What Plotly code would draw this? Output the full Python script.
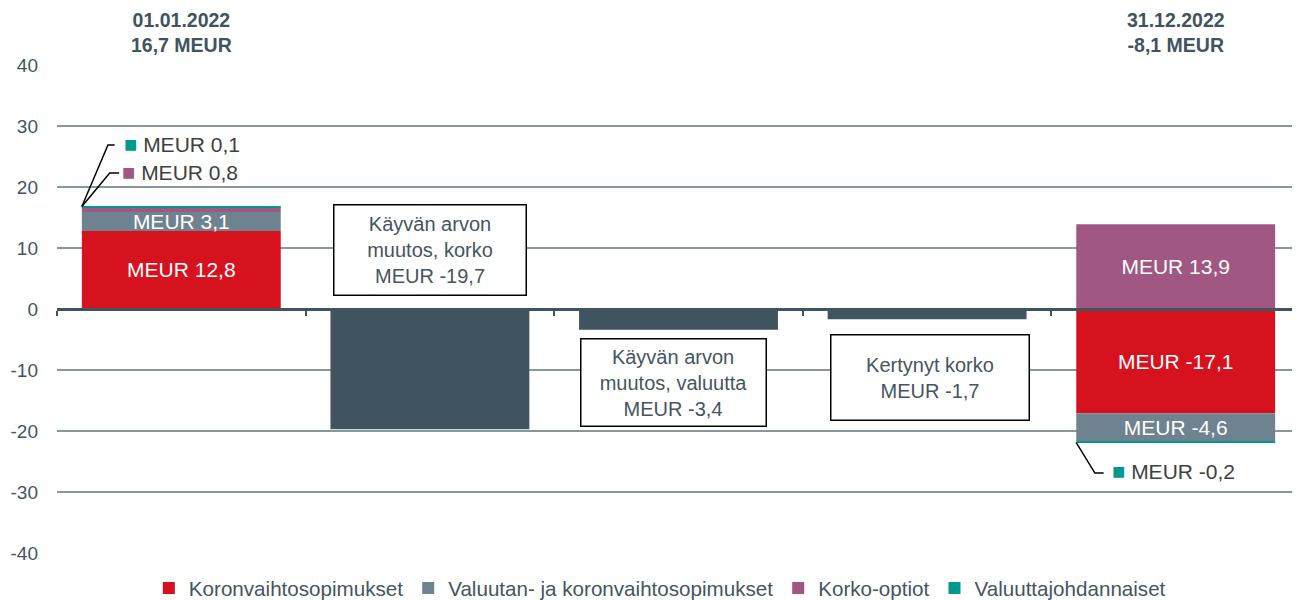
import plotly.graph_objects as go

# ---- data ----
x_pos = [0, 1, 2, 3, 4]
koronvaihto = [12.8, None, None, None, -17.1]
valuutan_koron = [3.1, None, None, None, -4.6]
korko_optiot = [0.8, None, None, None, 13.9]
valuutta_joh = [0.1, None, None, None, -0.2]
change_x = [1, 2, 3]
change_vals = [-19.7, -3.4, -1.7]
change_names = ["Käyvän arvon<br>muutos, korko", "Käyvän arvon<br>muutos, valuutta", "Kertynyt korko"]
start_label = ("01.01.2022", "16,7 MEUR")
end_label = ("31.12.2022", "-8,1 MEUR")
y_ticks = [-40, -30, -20, -10, 0, 10, 20, 30, 40]
y_ticktext = [str(t) for t in y_ticks]

RED = "#D7121F"
GRAY = "#6E838F"
PURPLE = "#A05882"
TEAL = "#00998F"
DARK = "#3F545F"
TXT = "#44555F"
FONT = "Liberation Sans, Arial, sans-serif"


def fmt(v):
    return "MEUR " + f"{v:.1f}".replace(".", ",")


def inside_text(vals, min_abs=2.0):
    return [fmt(v) if (v is not None and abs(v) >= min_abs) else "" for v in vals]


fig = go.Figure()
series = [
    ("Koronvaihtosopimukset", koronvaihto, RED),
    ("Valuutan- ja koronvaihtosopimukset", valuutan_koron, GRAY),
    ("Korko-optiot", korko_optiot, PURPLE),
    ("Valuuttajohdannaiset", valuutta_joh, TEAL),
]
for name, vals, col in series:
    fig.add_trace(go.Bar(
        x=x_pos, y=vals, name=name, marker=dict(color=col, line=dict(width=0)),
        width=0.8, text=inside_text(vals), textposition="inside",
        insidetextanchor="middle", constraintext="none",
        textfont=dict(color="white", size=21, family=FONT),
        hoverinfo="skip",
    ))

fig.add_trace(go.Bar(
    x=change_x, y=change_vals, showlegend=False, width=0.8,
    marker=dict(color=DARK, line=dict(width=0)), hoverinfo="skip",
))

annotations = []
# Titles above first and last bars
for xi, (l1, l2) in [(0, start_label), (4, end_label)]:
    annotations.append(dict(
        x=xi, xref="x", y=1.067, yref="paper", yanchor="middle",
        text=f"<b>{l1}</b><br><b>{l2}</b>", showarrow=False,
        font=dict(size=19.5, color=DARK, family=FONT),
    ))

# Change boxes
box_pos = [(1.0, 9.6, 191, 89), (1.98, -12.1, 184, 86), (3.01, -11.15, 197, 84)]
for (bx, by, bw, bh), name, v in zip(box_pos, change_names, change_vals):
    annotations.append(dict(
        x=bx, y=by, xref="x", yref="y", text=f"{name}<br>{fmt(v)}",
        showarrow=False, bgcolor="white", bordercolor="black", borderwidth=1.5,
        borderpad=0, width=bw, height=bh,
        font=dict(size=20, color=TXT, family=FONT),
    ))

# Small-value callouts
small = [
    (-0.24, 26.9, TEAL, valuutta_joh[0]),
    (-0.245, 22.3, PURPLE, korko_optiot[0]),
    (3.735, -26.7, TEAL, valuutta_joh[4]),
]
for sx, sy, col, v in small:
    annotations.append(dict(
        x=sx, y=sy, xref="x", yref="y", xanchor="left", yanchor="middle",
        text=f"<span style='color:{col};font-size:22px'>■</span> {fmt(v)}",
        showarrow=False, font=dict(size=21, color="#404040", family=FONT),
    ))

top1 = sum(v for v in [koronvaihto[0], valuutan_koron[0], korko_optiot[0], valuutta_joh[0]])
bot5 = koronvaihto[4] + valuutan_koron[4] + valuutta_joh[4]
shapes = [
    dict(type="path", xref="x", yref="y",
         path=f"M -0.4 {top1} L -0.295 26.9 L -0.268 26.9",
         line=dict(color="black", width=1.5)),
    dict(type="path", xref="x", yref="y",
         path=f"M -0.4 {top1} L -0.288 22.3 L -0.25 22.3",
         line=dict(color="black", width=1.5)),
    dict(type="path", xref="x", yref="y",
         path=f"M 3.6 {bot5} L 3.675 -26.9 L 3.71 -26.9",
         line=dict(color="black", width=1.5)),
]

fig.update_layout(
    width=1292, height=592,
    margin=dict(l=49, r=0, t=57, b=47, autoexpand=False),
    barmode="relative",
    plot_bgcolor="white", paper_bgcolor="white",
    separators=",.",
    font=dict(family=FONT, color=TXT, size=19),
    annotations=annotations, shapes=shapes,
    legend=dict(orientation="h", x=0.485, xanchor="center", y=-0.072, yanchor="middle",
                font=dict(size=20.6, color=TXT, family=FONT), itemwidth=30,
                traceorder="normal"),
    xaxis=dict(range=[-0.5, 4.5], anchor="free", position=0.5,
               showline=True, linecolor=DARK, linewidth=2.5,
               tickvals=[-0.5, 0.5, 1.5, 2.5, 3.5, 4.5], ticks="outside", ticklen=5,
               tickwidth=2, tickcolor=DARK, showticklabels=False, showgrid=False,
               zeroline=False),
    yaxis=dict(range=[-40, 40], tickvals=y_ticks, ticktext=y_ticktext,
               showgrid=True, gridcolor="#8797A0",
               gridwidth=1.5, zeroline=False, showline=False, ticklabelstandoff=18,
               tickfont=dict(size=19, color=TXT, family=FONT)),
)

fig.write_html("out.html")
